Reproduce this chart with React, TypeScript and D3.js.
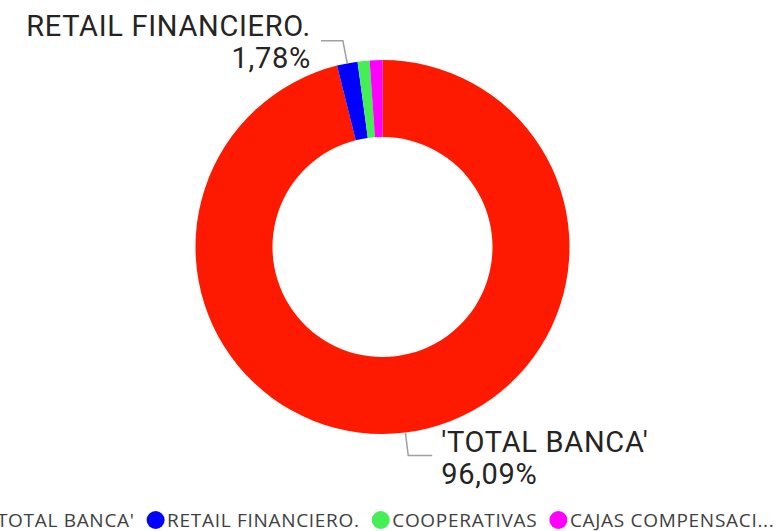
import React from 'react';
import * as d3 from 'd3';

const categories = ["'TOTAL BANCA'", 'RETAIL FINANCIERO.', 'COOPERATIVAS', 'CAJAS COMPENSACIÓN'];
const legendLabels = ["'TOTAL BANCA'", 'RETAIL FINANCIERO.', 'COOPERATIVAS', 'CAJAS COMPENSACI...'];
const shares = [96.09, 1.78, 1.03, 1.1];
const colors = ['#FD1A00', '#0000FF', '#44EE55', '#FF00FF'];
const shownLabels = [true, true, false, false];

const W = 780;
const H = 531;
const cx = 382.5;
const cy = 247;
const outerR = 187;
const innerR = 110;

const legendSize = 19;
const legendSpacing = 0.7;
const legendFont = `${legendSize}px "Open Sans", sans-serif`;

function measure(text: string, font: string, spacing: number) {
  const c = document.createElement('canvas').getContext('2d');
  if (!c) return text.length * 10;
  c.font = font;
  return c.measureText(text).width + spacing * text.length;
}

export default function App() {
  const pie = d3.pie<number>().sort(null).value((d) => d)(shares);
  const arc = d3.arc<d3.PieArcDatum<number>>().innerRadius(innerR).outerRadius(outerR);

  const fmt = (v: number) => v.toFixed(2).replace('.', ',') + '%';

  // legend layout: circle, text, gap — centred a bit left of the middle
  const r = 9;
  const textOff = 11.5;
  const gap = 21;
  const widths = legendLabels.map((l) => measure(l, legendFont, legendSpacing));
  const total = widths.reduce((s, w) => s + textOff + w + gap, 0) - gap + r;
  let lx = 373 - total / 2 + r;
  const legendItems = legendLabels.map((l, i) => {
    const item = { x: lx, label: l, color: colors[i] };
    lx += textOff + widths[i] + gap;
    return item;
  });

  return (
    <svg width={W} height={H} style={{ position: 'absolute', left: 0, top: 0, background: '#fff' }}>
      <g transform={`translate(${cx},${cy})`}>
        {pie.map((p, i) => (
          <path key={categories[i]} d={arc(p) || ''} fill={colors[i]} />
        ))}
        {pie.map((p, i) => {
          if (!shownLabels[i]) return null;
          const a = (p.startAngle + p.endAngle) / 2;
          const sx = Math.sin(a), sy = -Math.cos(a);
          const x0 = outerR * sx, y0 = outerR * sy;
          const x1 = (outerR + 23) * sx, y1 = (outerR + 23) * sy;
          const right = sx > 0;
          const x2 = x1 + (right ? 24 : -22);
          const tx = x2 + (right ? 9 : -10);
          const ty = right ? y1 - 3 : y1 - 4.5;
          return (
            <g key={'lbl' + i}>
              <polyline points={`${x0},${y0} ${x1},${y1} ${x2},${y1}`} fill="none" stroke="#a0a0a0" strokeWidth={1.5} />
              <text x={tx} y={ty} textAnchor={right ? 'start' : 'end'} fontFamily="Roboto, sans-serif" fontSize={29} letterSpacing={0.7} fill="#252423">
                {categories[i]}
              </text>
              <text x={tx} y={ty + 32} textAnchor={right ? 'start' : 'end'} fontFamily="Roboto, sans-serif" fontSize={29} letterSpacing={0.7} fill="#252423">
                {fmt(shares[i])}
              </text>
            </g>
          );
        })}
      </g>
      <g transform="translate(0,520)">
        {legendItems.map((it) => (
          <g key={it.label} transform={`translate(${it.x},0)`}>
            <circle cx={0} cy={0} r={r} fill={it.color} />
            <text x={textOff} y={0} dy="0.36em" fontFamily='"Open Sans", sans-serif' fontSize={legendSize} letterSpacing={legendSpacing} fill="#404040">
              {it.label}
            </text>
          </g>
        ))}
      </g>
    </svg>
  );
}
